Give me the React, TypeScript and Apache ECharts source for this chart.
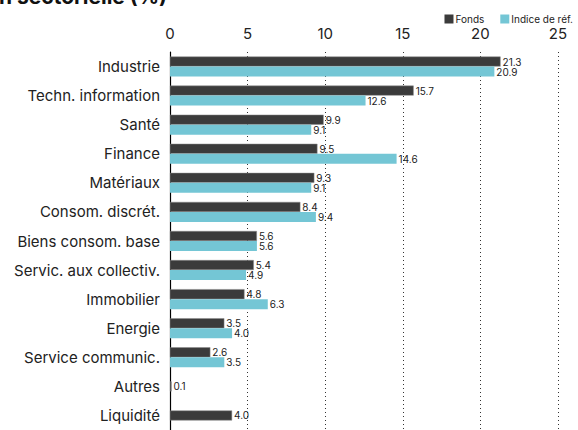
import React, { useEffect, useRef } from "react";
import * as echarts from "echarts";

const categories = [
  "Industrie",
  "Techn. information",
  "Santé",
  "Finance",
  "Matériaux",
  "Consom. discrét.",
  "Biens consom. base",
  "Servic. aux collectiv.",
  "Immobilier",
  "Energie",
  "Service communic.",
  "Autres",
  "Liquidité",
];
const fundValues = [21.3, 15.7, 9.9, 9.5, 9.3, 8.4, 5.6, 5.4, 4.8, 3.5, 2.6, 0.1, 4.0];
const refValues: (number | null)[] = [20.9, 12.6, 9.1, 14.6, 9.1, 9.4, 5.6, 4.9, 6.3, 4.0, 3.5, null, null];
const xTicks = [0, 5, 10, 15, 20, 25];

const FUND_COLOR = "#3b3b3b";
const REF_COLOR = "#74c6d5";
const FONT = "Inter, 'Liberation Sans', Arial, sans-serif";

export default function App() {
  const ref = useRef<HTMLDivElement>(null);
  useEffect(() => {
    if (!ref.current) return;
    const chart = echarts.init(ref.current, undefined, { renderer: "svg" });
    const pairedFund = fundValues.map((v, i) => (refValues[i] == null ? null : v));
    const soloFund = fundValues.map((v, i) => (refValues[i] == null ? v : null));
    const label = {
      show: true,
      position: "right" as const,
      distance: 2,
      fontSize: 10,
      color: "#222",
      fontFamily: FONT,
      formatter: (p: any) => (p.value == null ? "" : Number(p.value).toFixed(1)),
    };
    const yBase = {
      type: "category" as const,
      data: categories,
      inverse: true,
    };
    chart.setOption({
      animation: false,
      textStyle: { fontFamily: FONT },
      grid: { left: 170, right: 20, top: 52, bottom: 0, containLabel: false },
      legend: {
        data: ["Fonds", "Indice de réf."],
        right: 0,
        top: 9,
        itemWidth: 9,
        itemHeight: 9,
        itemGap: 16,
        icon: "rect",
        itemStyle: { borderWidth: 0 },
        textStyle: { fontSize: 10, color: "#222", padding: [0, 0, 0, -3] },
      },
      graphic: [
        {
          type: "text",
          x: 167,
          y: -4,
          style: {
            text: "Répartition sectorielle (%)",
            font: "bold 21px " + FONT,
            fill: "#111",
            textAlign: "right",
            textVerticalAlign: "middle",
          },
        },
      ],
      xAxis: {
        type: "value",
        position: "top",
        min: xTicks[0],
        max: xTicks[xTicks.length - 1],
        interval: 5,
        axisLine: { show: false },
        axisTick: { show: false },
        axisLabel: { fontSize: 15, color: "#222", margin: 11 },
        splitLine: {
          show: true,
          lineStyle: { color: "#333", type: [1, 3], width: 1 },
        },
      },
      yAxis: [
        {
          ...yBase,
          axisLine: { show: true, lineStyle: { color: "#000", width: 1.2 } },
          axisTick: { show: false },
          axisLabel: { fontSize: 15, color: "#222", margin: 10 },
        },
        {
          ...yBase,
          show: false,
        },
      ],
      series: [
        {
          name: "Fonds",
          type: "bar",
          yAxisIndex: 0,
          data: pairedFund,
          barWidth: 10,
          barGap: "0%",
          itemStyle: { color: FUND_COLOR, borderColor: "#8a8a8a", borderWidth: 0.5 },
          label,
        },
        {
          name: "Indice de réf.",
          type: "bar",
          yAxisIndex: 0,
          data: refValues,
          barWidth: 10,
          barGap: "0%",
          itemStyle: { color: REF_COLOR },
          label,
        },
        {
          name: "Fonds",
          type: "bar",
          yAxisIndex: 1,
          data: soloFund,
          barWidth: 10,
          itemStyle: { color: FUND_COLOR, borderColor: "#8a8a8a", borderWidth: 0.5 },
          label,
        },
      ],
    });
    return () => chart.dispose();
  }, []);
  return <div ref={ref} style={{ width: 578, height: 430, position: "absolute", left: 0, top: 0 }} />;
}
